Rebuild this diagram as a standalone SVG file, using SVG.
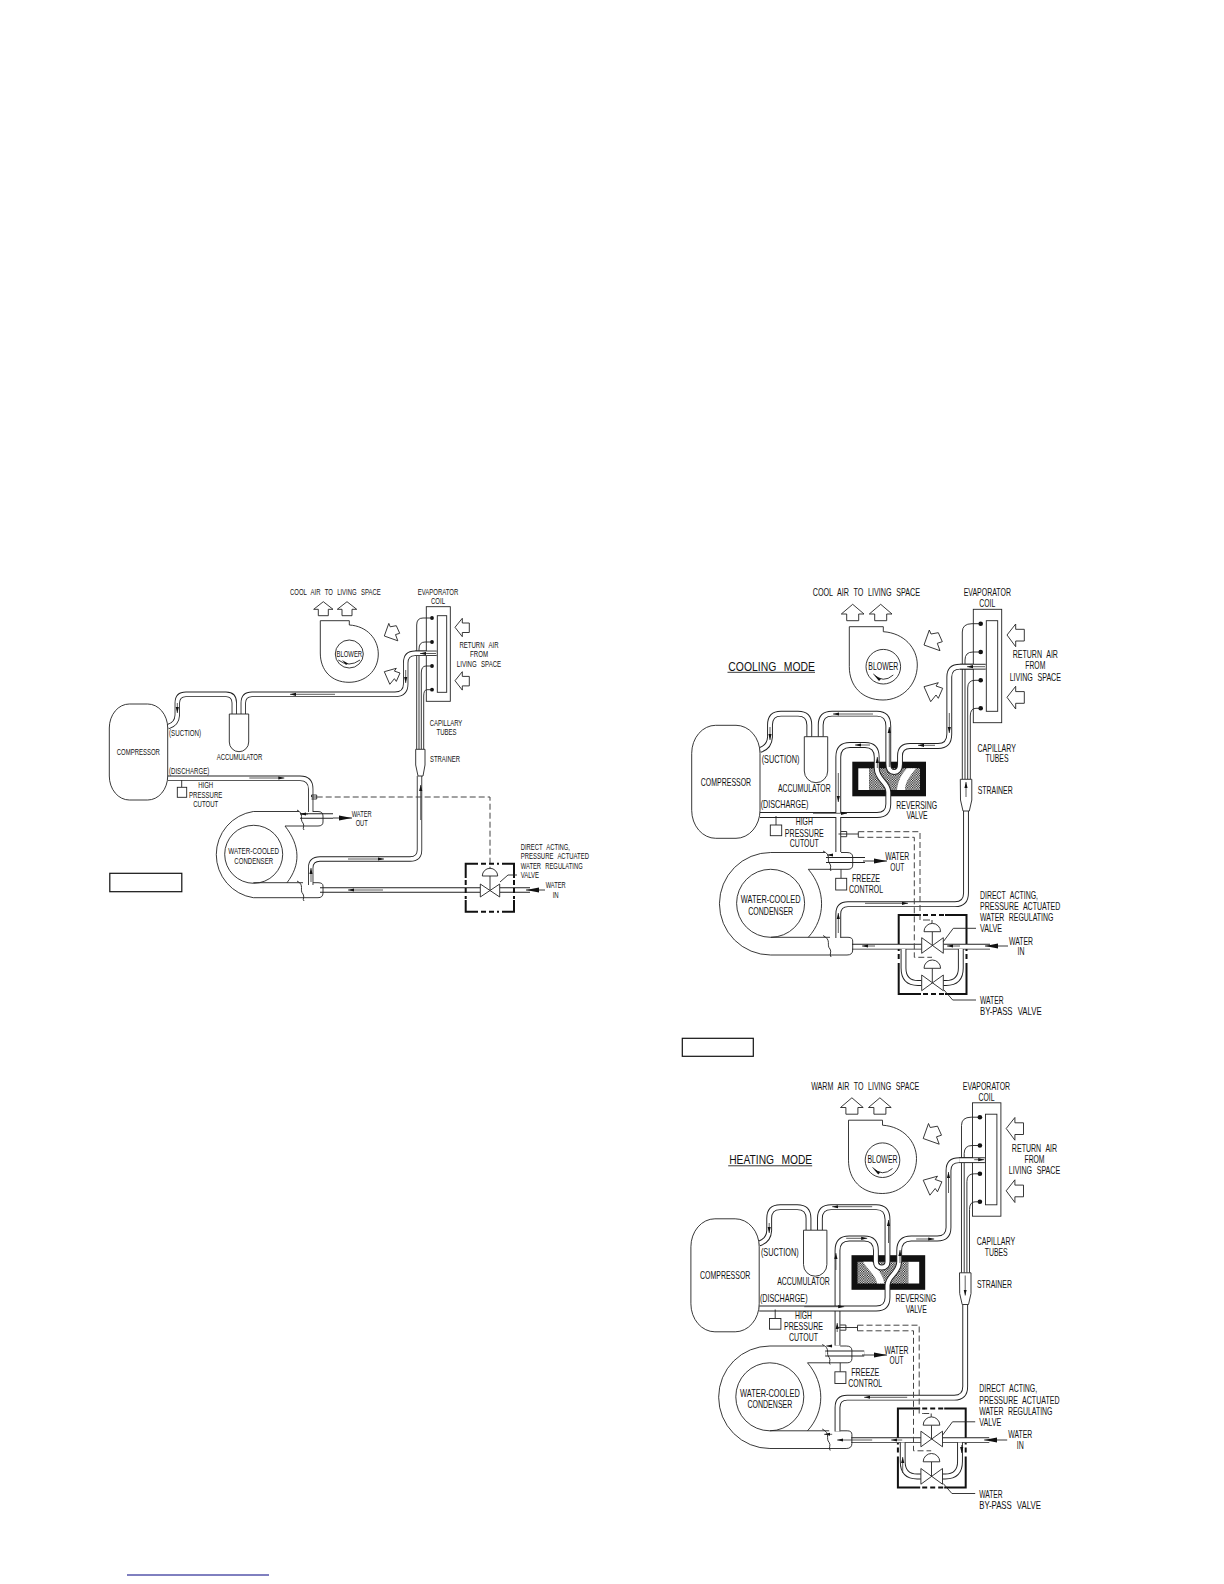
<svg xmlns="http://www.w3.org/2000/svg" width="1224" height="1584" viewBox="0 0 1224 1584">
<style>
text{font-family:"Liberation Sans Narrow","Liberation Sans",Arial,sans-serif;fill:#111;word-spacing:4px}
.t1{font-size:9px}.t2{font-size:10.8px}.m{text-anchor:middle}
.l{fill:none;stroke:#222;stroke-width:.9}
.s{fill:#fff;stroke:#222;stroke-width:.9}
.po{fill:none;stroke:#222;stroke-width:5.8}
.pi{fill:none;stroke:#fff;stroke-width:3.9}
.po1{fill:none;stroke:#222;stroke-width:5.4}
.pi1{fill:none;stroke:#fff;stroke-width:3.7}
.f{fill:none;stroke:#333;stroke-width:.8;marker-end:url(#ah)}
.w{fill:none;stroke:#222;stroke-width:.9;marker-end:url(#ab)}
.th{fill:none;stroke:#111;stroke-width:2}
.da{fill:none;stroke:#111;stroke-width:2;stroke-dasharray:5 3}
.d{fill:none;stroke:#444;stroke-width:1;stroke-dasharray:6 3}
.dot{fill:#111}
.bk{fill:#111}
</style>
<defs>
<marker id="ah" markerUnits="userSpaceOnUse" markerWidth="7" markerHeight="4" refX="6" refY="2" orient="auto"><path d="M0,0.4 L6,2 L0,3.6Z" fill="#111"/></marker>
<marker id="ab" markerUnits="userSpaceOnUse" markerWidth="14" markerHeight="6" refX="13" refY="3" orient="auto"><path d="M0,0.5 L13,3 L0,5.5Z" fill="#111"/></marker>
<pattern id="chk" width="2.4" height="2.4" patternUnits="userSpaceOnUse"><rect width="2.4" height="2.4" fill="#fff"/><rect width="1.2" height="1.2" fill="#111"/><rect x="1.2" y="1.2" width="1.2" height="1.2" fill="#111"/></pattern>

<path id="p2ca" d="M760,750 Q769.5,747 770,737 V725 Q770,713.7 781,713.7 H798 Q809.3,713.7 809.3,725 V736.7"/>
<path id="p2liq" d="M838.3,938 V914 Q838.3,904.2 848,904.2 H955 Q966,904.2 966,893 V811"/>
<path id="p2wl" d="M852,946.7 H921.7"/>
<path id="p2wr" d="M943.3,946.7 H990"/>
<path id="p2bl" d="M903.5,949 V968 Q903.5,983 918,983 H921.7"/>
<path id="p2br" d="M960.8,949 V968 Q960.8,983 946,983 H943.3"/>
<path id="p2wo" d="M826,860 H865"/>
<path id="p2S" d="M985.7,666.7 H960 Q949.3,666.7 949.3,677 V734 Q949.3,746 938,746 H910 Q900,746 900,756 V764 Q900,772 894.2,772 Q888.3,772 888.3,764 V726 Q888.3,713.7 877,713.7 H832 Q820.7,713.7 820.7,725 V736.7"/>
<path id="p2D" d="M760,815 H877 Q888.3,815 888.3,804 V792 C888.3,782 876.7,780 876.7,768 V757 Q876.7,745 865,745 H850 Q838.3,745 838.3,757 V852"/>
<path id="p3A" d="M760,815 H877 Q888.3,815 888.3,804 V792 C888.3,782 900,780 900,768 V757 Q900,745 912,745 H938 Q949.3,745 949.3,734 V677 Q949.3,666.7 960,666.7 H985.7"/>
<path id="p3B" d="M838.3,852 V757 Q838.3,745 850,745 H865 Q876.7,745 876.7,757 V768 Q876.7,774 882.5,774 Q888.3,774 888.3,768 V726 Q888.3,713.7 877,713.7 H832 Q820.7,713.7 820.7,725 V736.7"/>

<g id="s-blower"><path class="l" d="M849.3,626.7 H883.3 V631.7 C904,633 917.3,648 917.3,665 C917.3,685 902,700 883,700 C862,700 849.3,686 849.3,666.7 Z"/><circle class="l" cx="883.3" cy="666.7" r="17.3"/><path class="l" d="M873.3,674 Q883,684 893.3,675"/><path class="bk" d="M874,675 L881,679 L879,681Z"/></g>
<g id="s-up"><path class="s" d="M852.7,604.3 L864,614 H858.7 V620.7 H846.7 V614 H841.3Z"/><path class="s" d="M880.7,604.3 L892,614 H886.7 V620.7 H874.7 V614 H869.3Z"/><path class="s" d="M924,645 L929.3,630 L931,634 L938.3,632.7 L942.3,641.7 L937.3,643.3 L940,650.7Z"/><path class="s" d="M924,686.7 L938.3,682.7 L936,686 L942.7,688.3 L938.3,698.3 L936,695 L930.7,701.7Z"/><path class="s" d="M1007,635 L1015.7,624 V629.3 H1024.3 V641 H1015.7 V646.7Z"/><path class="s" d="M1007,697.3 L1015.7,686.3 V691.6 H1024.3 V703.3 H1015.7 V709Z"/></g>
<g id="s-coil"><rect class="s" x="973.3" y="609.3" width="28.4" height="113.4"/><rect class="s" x="986.3" y="620.7" width="11.4" height="90.6"/><circle class="dot" cx="980.7" cy="623.7" r="2.3"/><circle class="dot" cx="980.7" cy="652" r="2.3"/><circle class="dot" cx="980.7" cy="680.3" r="2.3"/><circle class="dot" cx="980.7" cy="708.3" r="2.3"/><path class="l" d="M962.3,779.3 V632 Q962.3,623.7 972,623.7 H980.7 M965,779.3 V660 Q965,652 973,652 H980.7 M967.7,779.3 V688 Q967.7,680.3 975,680.3 H980.7 M970.3,779.3 V716 Q970.3,708.3 976,708.3 H980.7"/></g>
<g id="s-strainer"><path class="s" d="M960.3,779.3 H971.8 V800 L969.3,811 H963 L960.5,800Z"/></g>
<g id="s-comp"><rect class="s" x="691.7" y="725.3" width="68.3" height="113" rx="24" ry="28"/></g>
<g id="s-acc"><path class="s" d="M804.3,736.7 H827.7 V771 A11.7,11.7 0 0 1 804.3,771Z"/></g>
<g id="s-cond"><circle class="l" cx="770.6" cy="903.3" r="34"/><path class="l" d="M770.7,852.5 A51.2,51.2 0 0 0 770.7,955 H847 Q852.7,955 852.7,950 V941 Q852.7,937.3 848,937.3 H841 M830,937.3 H770.7 M770.7,852.5 H825 M841,852.5 H847 Q852.7,852.5 852.7,857 V865 Q852.7,869.3 848,869.3 H808.3 C826,890 826,918 808.3,937.3"/><path class="l" d="M823,851 C832,855 826,860 830,864 C832,867 829,869 831,871 M823,935.5 C832,940 826,945 830,949 C832,952 829,954 831,957"/></g>
<g id="s-hpc"><path class="l" d="M776,816 V825"/><rect class="s" x="770.3" y="825" width="11.4" height="10.7"/></g>
<g id="s-frz"><path class="l" d="M841,869.3 V878.3"/><rect class="s" x="835.7" y="878.3" width="11" height="11.7"/></g>
<g id="s-valves">
<path class="th" d="M921,915 H898.7 V945 M945,915 H966.5 V945 M898.7,963 V994 H921 M966.5,963 V994 H945"/>
<path class="da" d="M923,915 H944 M923,994 H944 M898.7,946 V962 M966.5,946 V962"/>
</g>
<g id="s-valve-sym">
<path class="l" d="M932.3,931.7 V945.5 M932.3,968.3 V982.7"/>
<path class="s" d="M924,931.7 A8.3,8.3 0 0 1 940.6,931.7Z M924,968.3 A8.3,8.3 0 0 1 940.6,968.3Z"/>
<path class="s" d="M921.7,937.7 L943.3,953.3 V937.7 L921.7,953.3Z M921.7,975 L943.3,990.7 V975 L921.7,990.7Z"/>
<path class="l" d="M943.3,941.7 L953.3,928.3 H976 M944,990 L952.7,1000 H976"/>
</g>
<g id="s-dash">
<path class="l" d="M838.5,834 H846.7 M841,831.5 H846.7 V836.7 H841 M846.7,834 H858.3 M858.3,831.7 V837.3"/>
<path class="d" d="M858.3,831.7 H920 V920 H924 M924,920 H931.7 M858.3,837.3 H914.3 V957.3 H932"/>
<path class="l" d="M932,920 V923.4"/>
</g>
</defs>

<g id="panel-1">
<g id="a-connectors">
<path class="po1" d="M168,726.7 Q177,724 177.3,715 V703 Q177.3,694.3 186,694.3 H226 Q234.3,694.3 234.3,703 V714"/>
<path class="pi1" d="M168,726.7 Q177,724 177.3,715 V703 Q177.3,694.3 186,694.3 H226 Q234.3,694.3 234.3,703 V714"/>
<path class="po1" d="M436.7,653.3 H415 Q405.7,653.3 405.7,663 V684 Q405.7,694.3 395,694.3 H252 Q243.3,694.3 243.3,703 V714"/>
<path class="pi1" d="M436.7,653.3 H415 Q405.7,653.3 405.7,663 V684 Q405.7,694.3 395,694.3 H252 Q243.3,694.3 243.3,703 V714"/>
<path class="po1" d="M167.7,778.3 H300 Q310.7,778.3 310.7,789 V812"/>
<path class="pi1" d="M167.7,778.3 H300 Q310.7,778.3 310.7,789 V812"/>
<path class="po1" d="M310.7,885 V868 Q310.7,859 320,859 H410 Q419.5,859 419.5,850 V776"/>
<path class="pi1" d="M310.7,885 V868 Q310.7,859 320,859 H410 Q419.5,859 419.5,850 V776"/>
<path class="po1" d="M320,890 H480 M500,890 H530"/>
<path class="pi1" d="M320,890 H480 M500,890 H530"/>
<path class="po1" d="M300,816 H333"/>
<path class="pi1" d="M300,816 H333"/>
<path class="f" d="M335,694.3 H290"/>
<path class="f" d="M405.7,670 V683"/>
<path class="f" d="M177.3,703 V713"/>
<path class="f" d="M249.3,778 H284.3"/>
<path class="f" d="M308,814 H300"/>
<path class="f" d="M311,882 V868"/>
<path class="f" d="M348,859 H384"/>
<path class="f" d="M420.7,820 V785"/>
<path class="f" d="M383,890 H348"/>
<path class="w" d="M333,818 H352"/>
<path class="w" d="M545,890 H526"/>
<path class="l" d="M316.7,797 H311.5 V795 H316.7 V799 H311.5"/>
<path class="d" d="M316.7,797 H490 V872"/>
</g>
<g id="a-blower"><path class="l" d="M320.3,620.7 H349.3 V625 C367,626 378.3,639 378.3,654 C378.3,671 365,682.3 349,682.3 C331,682.3 320.3,670 320.3,653Z"/><circle class="l" cx="349.3" cy="654" r="14"/><path class="l" d="M338.3,660 Q349,668 360,660"/><path class="bk" d="M342,660 L348,663.5 L346,665Z"/><text class="t1 m" x="349.3" y="657.3" textLength="25.7" lengthAdjust="spacingAndGlyphs">BLOWER</text></g>
<g id="a-air-arrows"><path class="s" d="M323.3,601.7 L333,609.3 H328.3 V615.7 H318.3 V609.3 H313.7Z"/><path class="s" d="M347,601.7 L356.7,609.3 H352 V615.7 H342 V609.3 H337.3Z"/><path class="s" d="M384.3,636 L388.8,623.4 L390.2,626.8 L396.3,625.7 L399.7,633.3 L395.5,634.6 L397.8,640.8Z"/><path class="s" d="M384.3,671.7 L396.3,668.3 L394.4,671.1 L400,673 L396.3,681.4 L394.4,678.7 L389.8,684.3Z"/><path class="s" d="M455,627.3 L462.3,618.3 V623 H469.3 V632.5 H462.3 V636.7Z"/><path class="s" d="M455,680.7 L462.3,671.7 V676.4 H469.3 V685.9 H462.3 V690.1Z"/>
<text class="t1" x="290" y="595" textLength="90.7" lengthAdjust="spacingAndGlyphs">COOL AIR TO LIVING SPACE</text>
<text class="t1 m" x="479" y="647.7" textLength="39" lengthAdjust="spacingAndGlyphs">RETURN AIR</text><text class="t1 m" x="479" y="657" textLength="18" lengthAdjust="spacingAndGlyphs">FROM</text><text class="t1 m" x="479" y="666.7" textLength="44.3" lengthAdjust="spacingAndGlyphs">LIVING SPACE</text></g>
<g id="a-coil"><rect class="s" x="426.3" y="606.7" width="24" height="94.6"/><rect class="s" x="437.3" y="615.7" width="9.4" height="76.6"/><circle class="dot" cx="432" cy="618" r="1.9"/><circle class="dot" cx="432" cy="642" r="1.9"/><circle class="dot" cx="432" cy="666" r="1.9"/><circle class="dot" cx="432" cy="689.7" r="1.9"/><path class="l" d="M416.7,749.3 V625 Q416.7,618 423,618 H432 M419,749.3 V649 Q419,642 425,642 H432 M421.3,749.3 V673 Q421.3,666 426,666 H432 M423.7,749.3 V696 Q423.7,689.7 427,689.7 H432"/><path class="po1" d="M436.7,653.3 H415"/><path class="pi1" d="M436.7,653.3 H415"/><path class="f" d="M436,653.5 H420"/>
<text class="t1 m" x="438" y="595" textLength="40.7" lengthAdjust="spacingAndGlyphs">EVAPORATOR</text><text class="t1 m" x="438" y="604.3" textLength="14" lengthAdjust="spacingAndGlyphs">COIL</text>
<text class="t1 m" x="446" y="725.7" textLength="32.7" lengthAdjust="spacingAndGlyphs">CAPILLARY</text><text class="t1 m" x="446.5" y="735" textLength="20" lengthAdjust="spacingAndGlyphs">TUBES</text></g>
<g id="a-strainer"><path class="s" d="M415.7,749.3 H425 V765 L423,776 H418 L415.7,765Z"/><text class="t1" x="430" y="762.3" textLength="30" lengthAdjust="spacingAndGlyphs">STRAINER</text></g>
<g id="a-compressor"><rect class="s" x="109.3" y="704" width="58.4" height="96" rx="20" ry="24"/><text class="t1 m" x="138.3" y="755" textLength="43.3" lengthAdjust="spacingAndGlyphs">COMPRESSOR</text><text class="t1" x="169" y="735.7" textLength="32" lengthAdjust="spacingAndGlyphs">(SUCTION)</text><text class="t1" x="169" y="773.7" textLength="40.3" lengthAdjust="spacingAndGlyphs">(DISCHARGE)</text></g>
<g id="a-accumulator"><path class="s" d="M229.3,714 H248.7 V742 A9.7,9.7 0 0 1 229.3,742Z"/><text class="t1 m" x="239.5" y="760" textLength="45.7" lengthAdjust="spacingAndGlyphs">ACCUMULATOR</text></g>
<g id="a-hpc"><path class="l" d="M181.7,780 V787.3"/><rect class="s" x="177.3" y="787.3" width="9.4" height="10"/><text class="t1 m" x="205.7" y="788.3" textLength="15" lengthAdjust="spacingAndGlyphs">HIGH</text><text class="t1 m" x="205.7" y="797.7" textLength="33.3" lengthAdjust="spacingAndGlyphs">PRESSURE</text><text class="t1 m" x="205.7" y="807" textLength="25" lengthAdjust="spacingAndGlyphs">CUTOUT</text></g>
<g id="a-condenser"><circle class="l" cx="253.7" cy="854.3" r="29"/><path class="l" d="M253.3,811.5 A43.6,43.6 0 0 0 253.3,897.7 H318 Q323,897.7 323,893 V886 Q323,882.7 318,882.7 H313 M303,882.7 H253.3 M253.3,811.5 H299 M313,811.5 H318 Q323,811.5 323,816 V822 Q323,826 318,826 H285 C300.6,846 300.6,865 287,882.7"/><path class="l" d="M297,810 C305,814 299,819 303,823 C305,826 302,828 304,830 M297,881 C305,885 299,890 303,894 C305,897 302,899 304,901"/><text class="t1 m" x="253.7" y="854.3" textLength="50.7" lengthAdjust="spacingAndGlyphs">WATER-COOLED</text><text class="t1 m" x="253.7" y="863.7" textLength="38.7" lengthAdjust="spacingAndGlyphs">CONDENSER</text><text class="t1 m" x="361.7" y="817" textLength="20" lengthAdjust="spacingAndGlyphs">WATER</text><text class="t1 m" x="361.7" y="826" textLength="12" lengthAdjust="spacingAndGlyphs">OUT</text></g>
<g id="a-valve"><path class="th" d="M478,863.7 H465.7 V878 M502,863.7 H514 V878 M465.7,900 V911.7 H478 M514,900 V911.7 H502"/><path class="da" d="M481,863.7 H499 M481,911.7 H499 M465.7,880 V899 M514,880 V899"/><path class="l" d="M490,876 V890"/><path class="s" d="M482.3,876 A7.7,7.7 0 0 1 497.7,876Z"/><path class="s" d="M480.3,884 L499.7,897 V884 L480.3,897Z"/><path class="l" d="M500,882 L508,875 H517"/><text class="t1" x="520.7" y="850" textLength="49.3" lengthAdjust="spacingAndGlyphs">DIRECT ACTING,</text><text class="t1" x="520.7" y="859.3" textLength="68.3" lengthAdjust="spacingAndGlyphs">PRESSURE ACTUATED</text><text class="t1" x="520.7" y="869" textLength="62" lengthAdjust="spacingAndGlyphs">WATER REGULATING</text><text class="t1" x="520.7" y="878.3" textLength="18.3" lengthAdjust="spacingAndGlyphs">VALVE</text><text class="t1 m" x="555.7" y="888.3" textLength="20" lengthAdjust="spacingAndGlyphs">WATER</text><text class="t1 m" x="555.7" y="897.7" textLength="6" lengthAdjust="spacingAndGlyphs">IN</text></g>
<rect id="a-label" x="109.8" y="873.3" width="72" height="18.4" fill="#fff" stroke="#111" stroke-width="1.2"/>
</g>

<g id="panel-2">
<g id="b-rv"><rect class="bk" x="852.3" y="761.7" width="73.7" height="34.6"/><rect x="858.3" y="768.3" width="11" height="21.7" fill="#fff"/><rect x="869.3" y="768.3" width="50.7" height="21.7" fill="url(#chk)"/><path fill="#fff" d="M907,768.3 H916 C910,776 905,782 905,790 H897 C898,780 902,774 907,768.3Z"/><text class="t2 m" x="916.7" y="808.7" textLength="40.7" lengthAdjust="spacingAndGlyphs">REVERSING</text><text class="t2 m" x="917" y="819.3" textLength="21" lengthAdjust="spacingAndGlyphs">VALVE</text></g>
<g id="b-boxes"><use href="#s-valves"/></g>
<g id="b-connectors">
<use href="#p2ca" class="po"/><use href="#p2ca" class="pi"/>
<use href="#p2liq" class="po"/><use href="#p2liq" class="pi"/>
<use href="#p2wl" class="po"/><use href="#p2wl" class="pi"/>
<use href="#p2wr" class="po"/><use href="#p2wr" class="pi"/>
<use href="#p2bl" class="po"/><use href="#p2bl" class="pi"/>
<use href="#p2br" class="po"/><use href="#p2br" class="pi"/>
<use href="#p2wo" class="po"/><use href="#p2wo" class="pi"/>
<use href="#p2S" class="po"/><use href="#p2S" class="pi"/>
<use href="#p2D" class="po"/><use href="#p2D" class="pi"/>
<path class="f" d="M873,714 H833"/><path class="f" d="M889.3,767 V727"/><path class="f" d="M870,745 H855"/><path class="f" d="M838.3,773 V802"/><path class="f" d="M877.3,768 V757"/><path class="f" d="M935,745.3 H918"/><path class="f" d="M949.3,713 V733"/><path class="f" d="M770,727 V740"/><path class="f" d="M813,813.3 H847"/><path class="f" d="M833,855 H827"/><path class="w" d="M863,861 H887"/><path class="f" d="M838.3,933 V913"/><path class="f" d="M865,903.3 H908"/><path class="f" d="M875,946 H862"/><path class="f" d="M960,946 H947"/><path class="w" d="M1008,946 H985"/>
</g>
<g id="b-blower"><use href="#s-blower"/><text class="t2 m" x="883.3" y="669.5" textLength="30" lengthAdjust="spacingAndGlyphs">BLOWER</text></g>
<g id="b-air-arrows"><use href="#s-up"/><text class="t2" x="812.7" y="596" textLength="107.3" lengthAdjust="spacingAndGlyphs">COOL AIR TO LIVING SPACE</text><text class="t2 m" x="1035.3" y="658.3" textLength="45.3" lengthAdjust="spacingAndGlyphs">RETURN AIR</text><text class="t2 m" x="1035.3" y="669.3" textLength="20" lengthAdjust="spacingAndGlyphs">FROM</text><text class="t2 m" x="1035.3" y="680.7" textLength="51.3" lengthAdjust="spacingAndGlyphs">LIVING SPACE</text></g>
<g id="b-title"><text class="t2" style="font-size:13.5px;word-spacing:6px" x="728.3" y="670.5" textLength="86.7" lengthAdjust="spacingAndGlyphs">COOLING MODE</text><path class="l" d="M727.5,672.3 H815"/></g>
<g id="b-coil"><use href="#s-coil"/><path class="po" d="M985.7,666.7 H960"/><path class="pi" d="M985.7,666.7 H960"/><path class="f" d="M985,666.7 H967"/><text class="t2 m" x="987.3" y="596" textLength="47.3" lengthAdjust="spacingAndGlyphs">EVAPORATOR</text><text class="t2 m" x="987.3" y="607" textLength="16" lengthAdjust="spacingAndGlyphs">COIL</text><text class="t2 m" x="996.7" y="751.7" textLength="38.3" lengthAdjust="spacingAndGlyphs">CAPILLARY</text><text class="t2 m" x="997" y="762.3" textLength="23" lengthAdjust="spacingAndGlyphs">TUBES</text></g>
<g id="b-strainer"><use href="#s-strainer"/><path class="f" d="M966,797 V782"/><text class="t2" x="977.7" y="794.3" textLength="35" lengthAdjust="spacingAndGlyphs">STRAINER</text></g>
<g id="b-compressor"><use href="#s-comp"/><text class="t2 m" x="726" y="785.7" textLength="50.3" lengthAdjust="spacingAndGlyphs">COMPRESSOR</text><text class="t2" x="761.7" y="762.7" textLength="37.7" lengthAdjust="spacingAndGlyphs">(SUCTION)</text><text class="t2" x="760.7" y="808.3" textLength="47.7" lengthAdjust="spacingAndGlyphs">(DISCHARGE)</text></g>
<g id="b-accumulator"><use href="#s-acc"/><text class="t2 m" x="804.3" y="791.7" textLength="52.7" lengthAdjust="spacingAndGlyphs">ACCUMULATOR</text></g>
<g id="b-hpc"><use href="#s-hpc"/><text class="t2 m" x="804.3" y="825.3" textLength="17" lengthAdjust="spacingAndGlyphs">HIGH</text><text class="t2 m" x="804.3" y="836.7" textLength="39" lengthAdjust="spacingAndGlyphs">PRESSURE</text><text class="t2 m" x="804.3" y="847.3" textLength="29" lengthAdjust="spacingAndGlyphs">CUTOUT</text></g>
<g id="b-condenser"><use href="#s-cond"/><text class="t2 m" x="770.7" y="903.3" textLength="59.7" lengthAdjust="spacingAndGlyphs">WATER-COOLED</text><text class="t2 m" x="770.7" y="914.7" textLength="45" lengthAdjust="spacingAndGlyphs">CONDENSER</text><text class="t2 m" x="897.3" y="860" textLength="24" lengthAdjust="spacingAndGlyphs">WATER</text><text class="t2 m" x="897.3" y="870.7" textLength="14" lengthAdjust="spacingAndGlyphs">OUT</text></g>
<g id="b-freeze"><use href="#s-frz"/><text class="t2 m" x="866" y="882" textLength="28" lengthAdjust="spacingAndGlyphs">FREEZE</text><text class="t2 m" x="866" y="893" textLength="34" lengthAdjust="spacingAndGlyphs">CONTROL</text></g>
<g id="b-valves"><use href="#s-dash"/><use href="#s-valve-sym"/><text class="t2" x="980" y="898.7" textLength="58" lengthAdjust="spacingAndGlyphs">DIRECT ACTING,</text><text class="t2" x="980" y="910" textLength="80.3" lengthAdjust="spacingAndGlyphs">PRESSURE ACTUATED</text><text class="t2" x="980" y="921.3" textLength="73.3" lengthAdjust="spacingAndGlyphs">WATER REGULATING</text><text class="t2" x="980" y="932.3" textLength="22" lengthAdjust="spacingAndGlyphs">VALVE</text><text class="t2 m" x="1021" y="944.7" textLength="24" lengthAdjust="spacingAndGlyphs">WATER</text><text class="t2 m" x="1021" y="955.3" textLength="7" lengthAdjust="spacingAndGlyphs">IN</text><text class="t2" x="980" y="1004" textLength="23.5" lengthAdjust="spacingAndGlyphs">WATER</text><text class="t2" x="980" y="1015" textLength="61.7" lengthAdjust="spacingAndGlyphs">BY-PASS VALVE</text></g>
<rect id="b-label" x="682.3" y="1038.3" width="71" height="18" fill="#fff" stroke="#111" stroke-width="1.2"/>
</g>

<g id="panel-3" transform="translate(-0.8,493.5)">
<g id="c-rv"><rect class="bk" x="852.3" y="761.7" width="73.7" height="34.6"/><rect x="909" y="768.3" width="11" height="21.7" fill="#fff"/><rect x="858.3" y="768.3" width="50.7" height="21.7" fill="url(#chk)"/><path fill="#fff" d="M864,768.3 H873 C876,775 884,780 885,790 H878 C877,782 868,776 864,768.3Z"/><text class="t2 m" x="916.7" y="808.7" textLength="40.7" lengthAdjust="spacingAndGlyphs">REVERSING</text><text class="t2 m" x="917" y="819.3" textLength="21" lengthAdjust="spacingAndGlyphs">VALVE</text></g>
<g id="c-boxes"><use href="#s-valves"/></g>
<g id="c-connectors">
<use href="#p2ca" class="po"/><use href="#p2ca" class="pi"/>
<use href="#p2liq" class="po"/><use href="#p2liq" class="pi"/>
<use href="#p2wl" class="po"/><use href="#p2wl" class="pi"/>
<use href="#p2wr" class="po"/><use href="#p2wr" class="pi"/>
<use href="#p2bl" class="po"/><use href="#p2bl" class="pi"/>
<use href="#p2br" class="po"/><use href="#p2br" class="pi"/>
<use href="#p2wo" class="po"/><use href="#p2wo" class="pi"/>
<use href="#p3B" class="po"/><use href="#p3B" class="pi"/>
<use href="#p3A" class="po"/><use href="#p3A" class="pi"/>
<path class="f" d="M873,713.2 H833"/><path class="f" d="M889.3,749.5 V726.5"/><path class="f" d="M847,744.8 H868"/><path class="f" d="M836.7,776.5 V759.5"/><path class="f" d="M917,745.5 H935"/><path class="f" d="M949.3,699.5 V678.5"/><path class="f" d="M770,729.5 V739.5"/><path class="f" d="M900.8,769.5 V756.5"/><path class="f" d="M805,813.2 H845"/><path class="f" d="M838,838.5 V829.5"/><path class="f" d="M833,852.5 H827"/><path class="w" d="M862.8,861.5 H887.8"/><path class="f" d="M908,903.8 H865"/><path class="f" d="M833,940.8 H825"/><path class="f" d="M873,946.5 H838"/><path class="f" d="M903,946.5 H892"/><path class="w" d="M1008,946.5 H985"/><path class="f" d="M903.5,979.5 V963.5"/><path class="f" d="M962.5,951.5 V959.5"/>
</g>
<g id="c-blower"><use href="#s-blower"/><text class="t2 m" x="883.3" y="669.5" textLength="30" lengthAdjust="spacingAndGlyphs">BLOWER</text></g>
<g id="c-air-arrows"><use href="#s-up"/><text class="t2" x="812" y="596" textLength="108" lengthAdjust="spacingAndGlyphs">WARM AIR TO LIVING SPACE</text><text class="t2 m" x="1035.3" y="658.3" textLength="45.3" lengthAdjust="spacingAndGlyphs">RETURN AIR</text><text class="t2 m" x="1035.3" y="669.3" textLength="20" lengthAdjust="spacingAndGlyphs">FROM</text><text class="t2 m" x="1035.3" y="680.7" textLength="51.3" lengthAdjust="spacingAndGlyphs">LIVING SPACE</text></g>
<g id="c-title"><text class="t2" style="font-size:13.5px;word-spacing:6px" x="730" y="670.5" textLength="83" lengthAdjust="spacingAndGlyphs">HEATING MODE</text><path class="l" d="M729,672.3 H813"/></g>
<g id="c-coil"><use href="#s-coil"/><path class="po" d="M985.7,666.7 H960"/><path class="pi" d="M985.7,666.7 H960"/><path class="f" d="M975,666.2 H985"/><text class="t2 m" x="987.3" y="596" textLength="47.3" lengthAdjust="spacingAndGlyphs">EVAPORATOR</text><text class="t2 m" x="987.3" y="607" textLength="16" lengthAdjust="spacingAndGlyphs">COIL</text><text class="t2 m" x="996.7" y="751.7" textLength="38.3" lengthAdjust="spacingAndGlyphs">CAPILLARY</text><text class="t2 m" x="997" y="762.3" textLength="23" lengthAdjust="spacingAndGlyphs">TUBES</text></g>
<g id="c-strainer"><use href="#s-strainer"/><path class="f" d="M966,782 V802"/><text class="t2" x="977.7" y="794.3" textLength="35" lengthAdjust="spacingAndGlyphs">STRAINER</text></g>
<g id="c-compressor"><use href="#s-comp"/><text class="t2 m" x="726" y="785.7" textLength="50.3" lengthAdjust="spacingAndGlyphs">COMPRESSOR</text><text class="t2" x="761.7" y="762.7" textLength="37.7" lengthAdjust="spacingAndGlyphs">(SUCTION)</text><text class="t2" x="760.7" y="808.3" textLength="47.7" lengthAdjust="spacingAndGlyphs">(DISCHARGE)</text></g>
<g id="c-accumulator"><use href="#s-acc"/><text class="t2 m" x="804.3" y="791.7" textLength="52.7" lengthAdjust="spacingAndGlyphs">ACCUMULATOR</text></g>
<g id="c-hpc"><use href="#s-hpc"/><text class="t2 m" x="804.3" y="825.3" textLength="17" lengthAdjust="spacingAndGlyphs">HIGH</text><text class="t2 m" x="804.3" y="836.7" textLength="39" lengthAdjust="spacingAndGlyphs">PRESSURE</text><text class="t2 m" x="804.3" y="847.3" textLength="29" lengthAdjust="spacingAndGlyphs">CUTOUT</text></g>
<g id="c-condenser"><use href="#s-cond"/><text class="t2 m" x="770.7" y="903.3" textLength="59.7" lengthAdjust="spacingAndGlyphs">WATER-COOLED</text><text class="t2 m" x="770.7" y="914.7" textLength="45" lengthAdjust="spacingAndGlyphs">CONDENSER</text><text class="t2 m" x="897.3" y="860" textLength="24" lengthAdjust="spacingAndGlyphs">WATER</text><text class="t2 m" x="897.3" y="870.7" textLength="14" lengthAdjust="spacingAndGlyphs">OUT</text></g>
<g id="c-freeze"><use href="#s-frz"/><text class="t2 m" x="866" y="882" textLength="28" lengthAdjust="spacingAndGlyphs">FREEZE</text><text class="t2 m" x="866" y="893" textLength="34" lengthAdjust="spacingAndGlyphs">CONTROL</text></g>
<g id="c-valves"><use href="#s-dash"/><use href="#s-valve-sym"/><text class="t2" x="980" y="898.7" textLength="58" lengthAdjust="spacingAndGlyphs">DIRECT ACTING,</text><text class="t2" x="980" y="910" textLength="80.3" lengthAdjust="spacingAndGlyphs">PRESSURE ACTUATED</text><text class="t2" x="980" y="921.3" textLength="73.3" lengthAdjust="spacingAndGlyphs">WATER REGULATING</text><text class="t2" x="980" y="932.3" textLength="22" lengthAdjust="spacingAndGlyphs">VALVE</text><text class="t2 m" x="1021" y="944.7" textLength="24" lengthAdjust="spacingAndGlyphs">WATER</text><text class="t2 m" x="1021" y="955.3" textLength="7" lengthAdjust="spacingAndGlyphs">IN</text><text class="t2" x="980" y="1004" textLength="23.5" lengthAdjust="spacingAndGlyphs">WATER</text><text class="t2" x="980" y="1015" textLength="61.7" lengthAdjust="spacingAndGlyphs">BY-PASS VALVE</text></g>
</g>
<path id="footer-rule" d="M127,1575 H269" stroke="#000080" stroke-width="1" fill="none"/>
</svg>
